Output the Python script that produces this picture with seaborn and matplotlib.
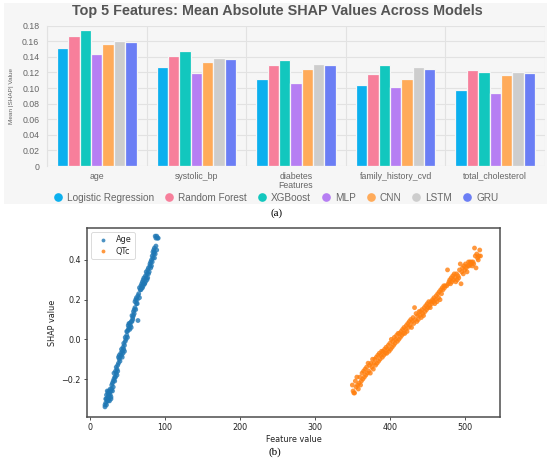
import numpy as np
import pandas as pd
import matplotlib
matplotlib.use("Agg")
import matplotlib.pyplot as plt
from matplotlib.lines import Line2D
from matplotlib.patches import Rectangle
import seaborn as sns

# ---------------- data: panel (a) ----------------
features = ["age", "systolic_bp", "diabetes", "family_history_cvd", "total_cholesterol"]
models = ["Logistic Regression", "Random Forest", "XGBoost", "MLP", "CNN", "LSTM", "GRU"]
lr_vals   = [0.151, 0.127, 0.111, 0.104, 0.097]
rf_vals   = [0.167, 0.141, 0.130, 0.118, 0.123]
xgb_vals  = [0.174, 0.148, 0.136, 0.129, 0.121]
mlp_vals  = [0.144, 0.119, 0.107, 0.101, 0.094]
cnn_vals  = [0.157, 0.134, 0.124, 0.111, 0.117]
lstm_vals = [0.161, 0.139, 0.131, 0.127, 0.121]
gru_vals  = [0.159, 0.137, 0.129, 0.125, 0.119]
y_ticks_a = [0, 0.02, 0.04, 0.06, 0.08, 0.10, 0.12, 0.14, 0.16, 0.18]
y_ticklabels_a = ["0", "0.02", "0.04", "0.06", "0.08", "0.10", "0.12", "0.14", "0.16", "0.18"]

# ---------------- data: panel (b) ----------------
age_x = [20, 20, 21, 21, 22, 22, 23, 23, 24, 24, 25, 25, 26, 26, 27, 27, 28, 28, 29, 30,
         30, 31, 32, 32, 33, 33, 34, 35, 35, 36, 37, 37, 38, 39, 39, 40, 41, 42, 42, 43,
         44, 45, 45, 46, 47, 47, 48, 49, 49, 50, 51, 52, 52, 53, 54, 55, 55, 56, 57, 58,
         58, 59, 60, 60, 61, 62, 62, 63, 64, 64, 65, 66, 67, 68, 69, 69, 70, 71, 71, 72,
         73, 74, 74, 75, 76, 77, 77, 78, 79, 80, 80, 81, 82, 83, 83, 84, 85, 85, 86, 86,
         87, 87, 88, 88, 89, 89, 90, 91,
         22, 25, 29, 31, 34, 36, 40, 43, 46, 50, 53, 57, 59, 61, 66, 68, 72, 75, 78, 81,
         84, 86, 24, 28, 38, 44, 51, 56, 63, 70, 76, 82]
age_y = [-0.34, -0.33, -0.32, -0.30, -0.33, -0.28, -0.31, -0.26, -0.29, -0.27, -0.30, -0.26,
         -0.27, -0.31, -0.28, -0.25, -0.26, -0.30, -0.25, -0.22, -0.26, -0.21, -0.20, -0.17,
         -0.19, -0.21, -0.16, -0.17, -0.14, -0.15, -0.13, -0.16, -0.12, -0.08, -0.10, -0.09,
         -0.07, -0.08, -0.05, -0.06, -0.04, -0.05, -0.02, -0.06, 0.01, -0.01, 0.00, 0.02,
         0.04, 0.01, 0.05, 0.06, 0.08, 0.05, 0.07, 0.09, 0.06, 0.12, 0.10, 0.14, 0.12, 0.15,
         0.16, 0.19, 0.20, 0.18, 0.21, 0.20, 0.22, 0.095, 0.23, 0.21, 0.25, 0.27, 0.26, 0.28,
         0.29, 0.27, 0.30, 0.31, 0.28, 0.32, 0.29, 0.34, 0.33, 0.35, 0.31, 0.36, 0.34, 0.37,
         0.38, 0.36, 0.40, 0.42, 0.39, 0.41, 0.43, 0.45, 0.44, 0.46, 0.52, 0.43, 0.51, 0.47,
         0.45, 0.52, 0.51, 0.51,
         -0.30, -0.28, -0.23, -0.24, -0.19, -0.18, -0.11, -0.09, -0.03, 0.04, 0.08, 0.11,
         0.13, 0.15, 0.26, 0.25, 0.28, 0.31, 0.33, 0.39, 0.44, 0.41, -0.31, -0.29, -0.09,
         -0.07, 0.07, 0.09, 0.18, 0.26, 0.30, 0.37]
qtc_x = [350, 351, 352, 353, 354, 355, 356, 357, 358, 359, 360, 361, 362, 363, 364, 365,
         366, 367, 368, 369, 370, 371, 372, 373, 374, 375, 376, 377, 378, 379, 380, 381,
         382, 383, 384, 385, 386, 387, 388, 389, 390, 391, 392, 393, 394, 395, 396, 397,
         398, 399, 400, 401, 402, 403, 404, 405, 406, 407, 408, 409, 410, 411, 412, 413,
         414, 415, 416, 417, 418, 419, 420, 421, 422, 423, 424, 425, 426, 427, 428, 429,
         430, 431, 432, 433, 434, 435, 436, 437, 438, 439, 440, 441, 442, 443, 444, 445,
         446, 447, 448, 449, 450, 451, 452, 453, 454, 455, 456, 457, 458, 459, 460, 461,
         462, 463, 464, 465, 466, 467, 468, 469, 470, 471, 472, 473, 474, 476, 477, 478,
         479, 480, 481, 482, 483, 484, 485, 486, 487, 488, 489, 490, 491, 492, 493, 494,
         495, 496, 497, 498, 499, 500, 501, 502, 503, 504, 505, 506, 507, 508, 509, 510,
         511, 512, 513, 514, 515, 516, 517, 518, 519, 520, 521]
qtc_y = [-0.23, -0.26, -0.27, -0.27, -0.21, -0.24, -0.19, -0.23, -0.25, -0.22, -0.19, -0.23,
         -0.21, -0.17, -0.20, -0.16, -0.19, -0.15, -0.18, -0.14, -0.17, -0.12, -0.16, -0.13,
         -0.17, -0.12, -0.14, -0.10, -0.15, -0.12, -0.10, -0.13, -0.09, -0.12, -0.08, -0.11,
         -0.07, -0.10, -0.08, -0.06, -0.09, -0.06, -0.08, -0.05, -0.07, -0.04, -0.07, -0.05,
         -0.03, -0.06, -0.02, -0.05, 0.00, -0.04, -0.01, -0.03, 0.01, -0.02, 0.00, 0.02,
         -0.01, 0.03, 0.00, 0.03, 0.01, 0.04, 0.02, 0.05, 0.03, 0.06, 0.03, 0.05, 0.07,
         0.04, 0.08, 0.06, 0.09, 0.07, 0.10, 0.06, 0.09, 0.11, 0.08, 0.16, 0.10, 0.13, 0.09,
         0.12, 0.10, 0.14, 0.12, 0.14, 0.11, 0.15, 0.13, 0.12, 0.16, 0.14, 0.17, 0.15, 0.18,
         0.16, 0.19, 0.17, 0.16, 0.19, 0.18, 0.20, 0.19, 0.21, 0.18, 0.20, 0.22, 0.19, 0.23,
         0.21, 0.24, 0.20, 0.25, 0.23, 0.26, 0.25, 0.27, 0.26, 0.27, 0.27, 0.35, 0.28, 0.29,
         0.30, 0.28, 0.31, 0.29, 0.32, 0.30, 0.33, 0.31, 0.29, 0.33, 0.30, 0.32, 0.31, 0.35,
         0.38, 0.28, 0.34, 0.36, 0.33, 0.37, 0.35, 0.38, 0.36, 0.34, 0.37, 0.39, 0.37, 0.39,
         0.38, 0.39, 0.37, 0.39, 0.38, 0.46, 0.42, 0.36, 0.43, 0.41, 0.40, 0.42, 0.45, 0.42]

# ---------------- styling ----------------
bar_colors = ["#0cb0ee", "#f77f9b", "#12c7be", "#b67ef3", "#ffab5a", "#cdcdcd", "#6b7ef5"]
panel_bg = "#f6f6f6"
grid_c = "#e2e2e2"
txt_c = "#666666"

sns.set_theme(style="white")
plt.rcParams["font.family"] = ["Liberation Sans", "DejaVu Sans"]

W, H = 550, 465
fig = plt.figure(figsize=(W / 100, H / 100), dpi=100)
fig.patch.set_facecolor("white")

def fx(px):
    return px / W

def fy(py):
    return 1 - py / H

# grey panel background for (a)
fig.patches.append(Rectangle((fx(4), fy(204)), fx(547) - fx(4), fy(3) - fy(204),
                             transform=fig.transFigure, facecolor=panel_bg,
                             edgecolor="none", zorder=-5))

# ---------------- panel (a) ----------------
ax1 = fig.add_axes([fx(47), fy(166), fx(545) - fx(47), fy(25.7) - fy(166)])
ax1.set_facecolor(panel_bg)
ax1.set_zorder(2)

series = [lr_vals, rf_vals, xgb_vals, mlp_vals, cnn_vals, lstm_vals, gru_vals]
rows = []
for m, vals in zip(models, series):
    for f, v in zip(features, vals):
        rows.append({"Features": f, "value": v, "model": m})
df_a = pd.DataFrame(rows)

sns.barplot(data=df_a, x="Features", y="value", hue="model", order=features,
            hue_order=models, palette=bar_colors, width=0.8, ax=ax1,
            edgecolor=panel_bg, linewidth=0.9, legend=False, saturation=1,
            errorbar=None)

ax1.set_xlim(-0.5, len(features) - 0.5)
ax1.set_ylim(0, 0.18)
ax1.set_yticks(y_ticks_a)
ax1.set_yticklabels(y_ticklabels_a)
ax1.set_xticks(range(len(features)))
ax1.set_xticklabels(features)
ax1.set_xticks(np.arange(-0.5, len(features)), minor=True)
ax1.grid(axis="y", which="major", color=grid_c, linewidth=0.8, zorder=0)
ax1.grid(axis="x", which="minor", color=grid_c, linewidth=0.8, zorder=0)
ax1.set_axisbelow(True)
ax1.tick_params(axis="y", which="major", length=3.5, color=grid_c, width=0.8,
                labelsize=6.3, labelcolor=txt_c, pad=2)
ax1.tick_params(axis="x", which="major", length=0, labelsize=6.3,
                labelcolor=txt_c, pad=4)
ax1.tick_params(axis="x", which="minor", length=3, color=grid_c, width=0.8)
for s in ["top", "right", "bottom"]:
    ax1.spines[s].set_visible(False)
ax1.spines["left"].set_color(grid_c)
ax1.spines["left"].set_linewidth(0.8)
ax1.set_xlabel("")
ax1.set_ylabel("")

fig.text(fx(296), fy(185.5), "Features", ha="center", va="center",
         fontsize=6.3, color=txt_c)
fig.text(fx(12), fy(96.5), "Mean |SHAP| Value", ha="center", va="center",
         rotation=90, fontsize=4.6, color=txt_c)
fig.text(fx(277), fy(10.5), "Top 5 Features: Mean Absolute SHAP Values Across Models",
         ha="center", va="center", fontsize=10.4, fontweight="bold", color="#555555")

handles = [Line2D([], [], marker="o", linestyle="none", markersize=5.2,
                  markerfacecolor=c, markeredgecolor=c) for c in bar_colors]
fig.legend(handles, models, loc="center", bbox_to_anchor=(fx(276), fy(197.5)),
           ncol=7, frameon=False, fontsize=7.2, handlelength=0.9,
           handletextpad=0.45, columnspacing=1.05, labelcolor=txt_c,
           borderaxespad=0, borderpad=0)

fig.text(fx(277), fy(213), "(a)", ha="center", va="center", fontsize=8,
         family=["Liberation Serif", "DejaVu Serif"], color="black")

# ---------------- panel (b) ----------------
ax2 = fig.add_axes([fx(87), fy(417), fx(500) - fx(87), fy(228) - fy(417)])
ax2.set_facecolor("white")
df_b = pd.DataFrame({
    "Feature value": age_x + qtc_x,
    "SHAP value": age_y + qtc_y,
    "feature": ["Age"] * len(age_x) + ["QTc"] * len(qtc_x),
})
sns.scatterplot(data=df_b, x="Feature value", y="SHAP value", hue="feature",
                palette=["#1f77b4", "#ff7f0e"], s=12, alpha=0.8, linewidth=0,
                ax=ax2)
ax2.set_xlim(-4, 547)
ax2.set_ylim(-0.391, 0.561)
ax2.set_xticks([0, 100, 200, 300, 400, 500])
ax2.set_yticks([-0.2, 0.0, 0.2, 0.4])
ax2.set_yticklabels(["\u22120.2", "0.0", "0.2", "0.4"])
ax2.tick_params(axis="both", labelsize=5.8, length=2.5, width=0.6,
                color="#333333", labelcolor="#222222", pad=2, bottom=True, left=True)
for s in ax2.spines.values():
    s.set_color("#4d4d4d")
    s.set_linewidth(1.1)
ax2.set_xlabel("Feature value", fontsize=5.9, color="#222222", labelpad=2,
               family="DejaVu Sans")
ax2.set_ylabel("SHAP value", fontsize=5.9, color="#222222", labelpad=3,
               family="DejaVu Sans")
for lab in ax2.get_xticklabels() + ax2.get_yticklabels():
    lab.set_family("DejaVu Sans")
leg = ax2.legend(loc="upper left", markerscale=0.8, frameon=True,
                 handletextpad=0.6, borderpad=0.4, labelspacing=0.3,
                 prop={"family": "DejaVu Sans", "size": 5.9})
leg.get_frame().set_edgecolor("#cccccc")
leg.get_frame().set_linewidth(0.6)
leg.set_title(None)

fig.text(fx(275), fy(452), "(b)", ha="center", va="center", fontsize=8,
         family=["Liberation Serif", "DejaVu Serif"], color="black")

fig.savefig("out.png", dpi=100, facecolor="white")
